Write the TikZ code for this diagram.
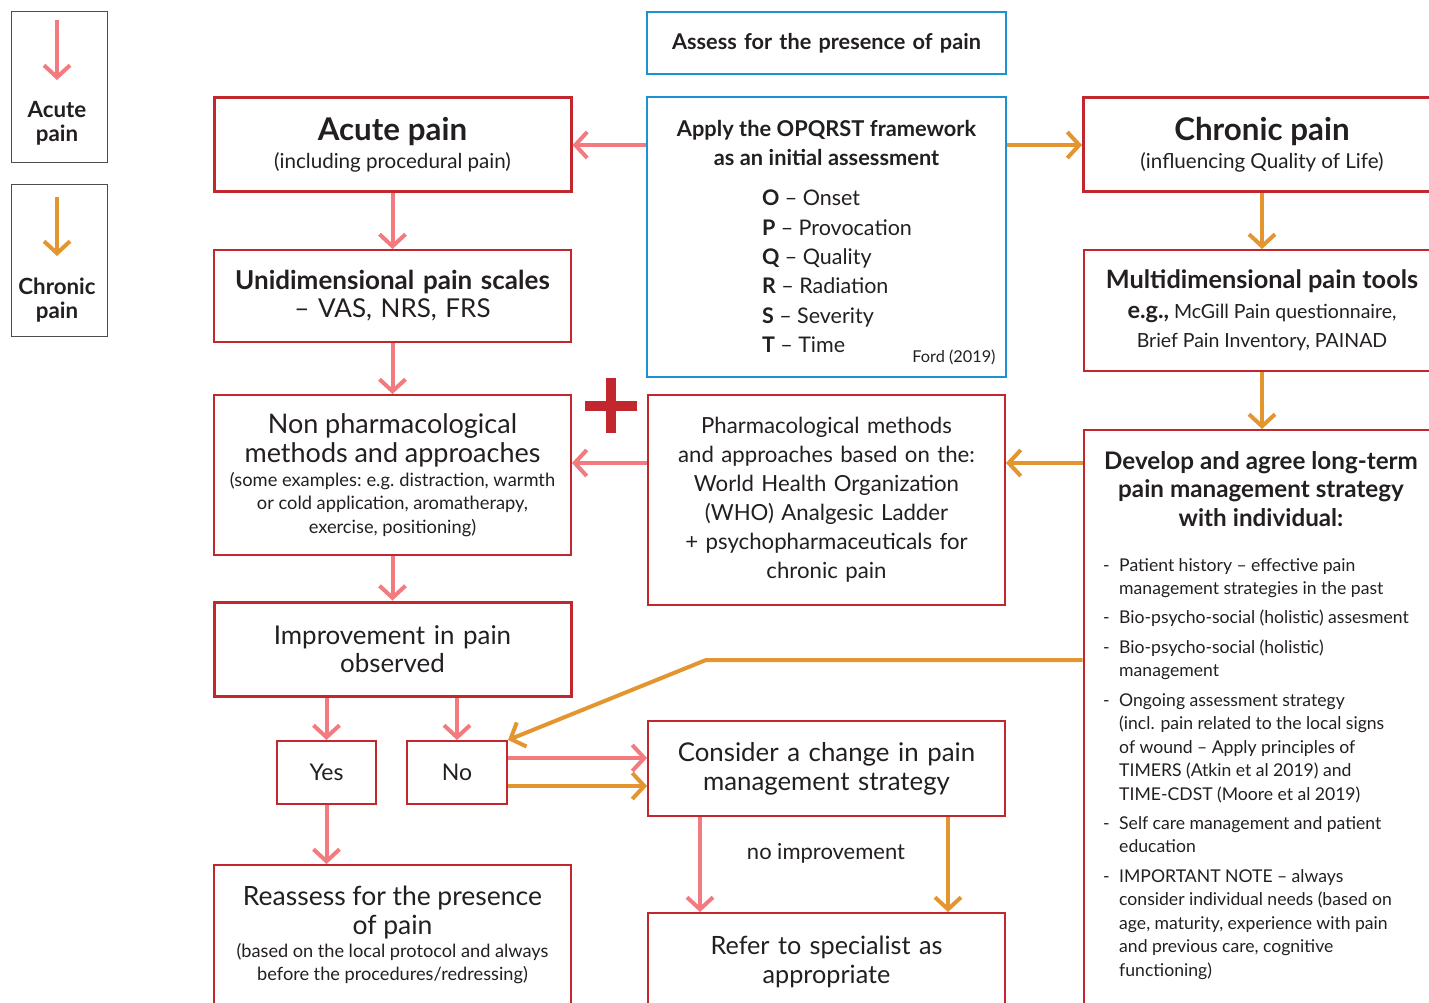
\documentclass[tikz,border=0pt]{standalone}
\usepackage{fontspec}
\setmainfont{Lato}
\usetikzlibrary{positioning, arrows.meta}
\definecolor{acuteRed}{HTML}{F37B7F}
\definecolor{chronicOrange}{HTML}{E3962F}
\definecolor{boxRed}{HTML}{C1272D}
\definecolor{frameBlue}{HTML}{1C92D2}
\definecolor{keyGray}{HTML}{4D4D4D}
\definecolor{inkGray}{HTML}{231F20}
\newcommand{\fsz}[2]{\fontsize{#1}{#2}\selectfont\spaceskip=0.25em\relax}
\newcommand{\listdash}{\makebox[16pt][l]{-}}
\newcommand{\listindent}{\hspace*{16pt}}
\tikzstyle{heavybox} =[draw=boxRed, line width=3pt, minimum width=357pt, text width=347pt, align=center, text=inkGray, inner sep=5pt]
\tikzstyle{lightbox} =[draw=boxRed, line width=2pt, minimum width=357pt, text width=347pt, align=center, text=inkGray, inner sep=5pt]
\tikzstyle{bluebox} =[draw=frameBlue, line width=2pt, minimum width=359pt, text width=349pt, align=center, text=inkGray, inner sep=5pt]
\tikzstyle{choicebox} =[draw=boxRed, line width=2pt, minimum width=100pt, minimum height=63pt, text=inkGray, font=\fsz{23}{27}]
\tikzstyle{keybox} =[draw=keyGray, line width=1pt, minimum width=96pt, minimum height=151pt]
\tikzstyle{plaintext} =[align=center, text=inkGray, inner sep=0pt]
\tikzstyle{boxtext} =[align=center, text=inkGray, inner sep=0pt, text width=349pt]
\tikzstyle{acutearrow} =[draw=acuteRed, line width=4pt, -{Straight Barb[length=12pt, width=26pt]}]
\tikzstyle{chronicarrow} =[draw=chronicOrange, line width=4pt, -{Straight Barb[length=12pt, width=26pt]}]

\begin{document}
\begin{tikzpicture}[x=1pt, y=-1pt]
\useasboundingbox (0,0) rectangle (1429,1003);

% key
\node (keyAcute) [keybox] at (59,87.5) {};
\node (keyChronic) [keybox] at (59,260.5) {};
\node (keyAcuteLabel) [plaintext, font=\fsz{22.3}{24}\bfseries] at (57,123) {Acute\\pain};
\node (keyChronicLabel) [plaintext, font=\fsz{22.3}{24}\bfseries] at (57,300) {Chronic\\pain};
\coordinate (keyAcuteStart) at (57,20);
\coordinate (keyAcuteEnd) at (57,80);
\coordinate (keyChronicStart) at (57,197);
\coordinate (keyChronicEnd) at (57,256);
\draw[acutearrow] (keyAcuteStart) -- (keyAcuteEnd);
\draw[chronicarrow] (keyChronicStart) -- (keyChronicEnd);

% middle column
\node (assess) [bluebox, minimum height=62pt, font=\fsz{21.7}{29}\bfseries] at (826.5,43) {Assess for the presence of pain};
\node (opqrst) [bluebox, minimum height=280pt] at (826.5,237) {};
\node (opqHead) [plaintext, font=\fsz{21.8}{29}\bfseries] at (826.5,143) {Apply the OPQRST framework\\as an initial assessment};
\node (opqList) [plaintext, align=left, anchor=north west, font=\fsz{21.5}{29.3}] at (762,190) {\textbf{O} -- Onset\\\textbf{P} -- Provocation\\\textbf{Q} -- Quality\\\textbf{R} -- Radiation\\\textbf{S} -- Severity\\\textbf{T} -- Time};
\node (ford) [plaintext, font=\fsz{16.3}{18}] at (954,357) {Ford (2019)};
\node (pharma) [lightbox, minimum height=210pt, font=\fsz{22.2}{29}] at (826.5,500) {Pharmacological methods\\and approaches based on the:\\World Health Organization\\(WHO) Analgesic Ladder\\+ psychopharmaceuticals for\\chronic pain};
\node (consider) [lightbox, minimum height=95pt, font=\fsz{25.8}{29}] at (826.5,768.5) {Consider a change in pain\\management strategy};
\node (refer) [lightbox, minimum height=97pt, font=\fsz{25.2}{29}] at (826.5,961.5) {Refer to specialist as\\appropriate};
\node (noImprove) [plaintext, font=\fsz{22}{25}] at (826,853) {no improvement};

% acute column
\node (acute) [heavybox, minimum height=94pt] at (392.5,145) {{\fsz{31.3}{34}\bfseries Acute pain\par}{\fsz{20.6}{28}(including procedural pain)\par}};
\node (unidim) [lightbox, minimum height=92pt, below=55.5pt of acute, font=\fsz{26}{28}] {\textbf{Unidimensional pain scales}\\-- VAS, NRS, FRS};
\node (nonpharm) [lightbox, minimum height=160pt, below=51pt of unidim] {{\fsz{27}{29}Non pharmacological\\methods and approaches\par}{\fsz{18.3}{23.5}(some examples: e.g. distraction, warmth\\or cold application, aromatherapy,\\exercise, positioning)\par}};
\node (improve) [heavybox, minimum height=94pt, below=44.5pt of nonpharm, font=\fsz{25.9}{28.5}] {Improvement in pain\\observed};
\node (yes) [choicebox, minimum width=99pt] at (326.5,772.5) {Yes};
\node (no) [choicebox] at (457,772.5) {No};
\node (reassess) [lightbox, minimum height=150pt] at (392.5,940) {};
\node (reassessText) [boxtext] at (392.5,935) {{\fsz{26.5}{29}Reassess for the presence\\of pain\par}{\fsz{18.2}{23}(based on the local protocol and always\\before the procedures/redressing)\par}};

% chronic column
\node (chronic) [heavybox, minimum height=94pt] at (1262,145) {{\fsz{31.3}{34}\bfseries Chronic pain\par}{\fsz{20.6}{28}(influencing Quality of Life)\par}};
\node (multi) [lightbox, minimum height=121pt, below=55.5pt of chronic] {{\fsz{25.3}{29}\bfseries Multidimensional pain tools\par}{\fsz{19.5}{29.5}{\fsz{23.5}{29.5}\bfseries e.g.,} McGill Pain questionnaire,\\Brief Pain Inventory, PAINAD\par}};
\node (develop) [lightbox, minimum height=620pt, below=57pt of multi] {};
\node (developHead) [plaintext, font=\fsz{24.2}{28.5}\bfseries] at (1261,489) {Develop and agree long-term\\pain management strategy\\with individual:};
\node (developList) [plaintext, align=left, anchor=north west, font=\fsz{17.6}{23.5}] at (1103,558) {\listdash Patient history -- effective pain\\\listindent management strategies in the past\\[5.8pt]\listdash Bio-psycho-social (holistic) assesment\\[5.8pt]\listdash Bio-psycho-social (holistic)\\\listindent management\\[5.8pt]\listdash Ongoing assessment strategy\\\listindent (incl. pain related to the local signs\\\listindent of wound -- Apply principles of\\\listindent TIMERS (Atkin et al 2019) and\\\listindent TIME-CDST (Moore et al 2019)\\[5.8pt]\listdash Self care management and patient\\\listindent education\\[5.8pt]\listdash IMPORTANT NOTE -- always\\\listindent consider individual needs (based on\\\listindent age, maturity, experience with pain\\\listindent and previous care, cognitive\\\listindent functioning)};

% plus sign
\draw[draw=boxRed, line width=10pt] (585,406) -- (637,406) (611,378) -- (611,433);

% connectors
\draw[acutearrow] (opqrst.west |- acute) -- (acute.east);
\draw[chronicarrow] (opqrst.east |- chronic) -- (chronic.west);
\draw[acutearrow] (acute) -- (unidim);
\draw[acutearrow] (unidim) -- (nonpharm);
\draw[acutearrow] (nonpharm) -- (improve);
\draw[acutearrow] (pharma.west |- 0,463) -- (nonpharm.east |- 0,463);
\draw[chronicarrow] (chronic) -- (multi);
\draw[chronicarrow] (multi) -- (develop.north);
\draw[chronicarrow] (develop.west |- 0,463) -- (pharma.east |- 0,463);
\draw[acutearrow] (yes |- improve.south) -- (yes);
\draw[acutearrow] (no |- improve.south) -- (no);
\draw[acutearrow] (yes) -- (yes |- reassess.north);
\coordinate (bendPoint) at (706,660);
\draw[chronicarrow] (develop.west |- bendPoint) -- (bendPoint) -- (no.north east);
\draw[acutearrow] (no.east |- 0,758) -- (consider.west |- 0,758);
\draw[chronicarrow] (no.east |- 0,786) -- (consider.west |- 0,786);
\coordinate (referAcute) at (700,0);
\coordinate (referChronic) at (948,0);
\draw[acutearrow] (referAcute |- consider.south) -- (referAcute |- refer.north);
\draw[chronicarrow] (referChronic |- consider.south) -- (referChronic |- refer.north);
\end{tikzpicture}
\end{document}
